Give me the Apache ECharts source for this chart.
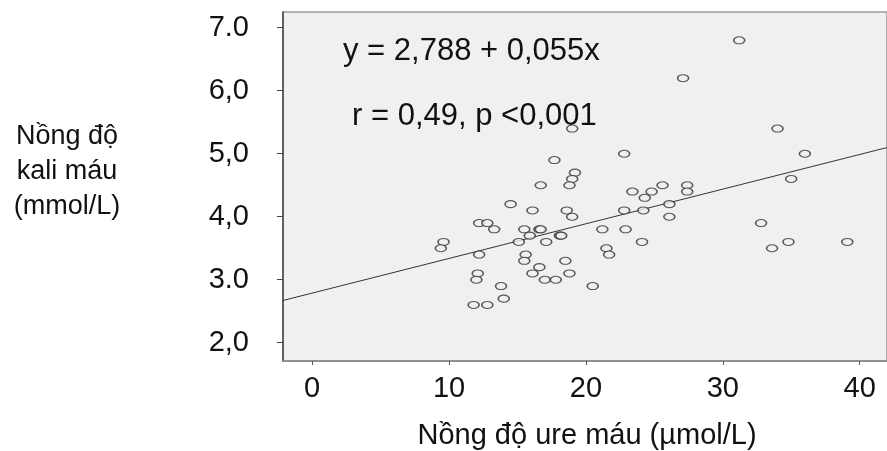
<!DOCTYPE html>
<html>
<head>
<meta charset="utf-8">
<script src="https://cdn.jsdelivr.net/npm/echarts@6/dist/echarts.min.js"></script>
<style>
  html, body { margin: 0; padding: 0; background: #fff; }
  #chart { width: 887px; height: 451px; }
</style>
</head>
<body>
<div id="chart"></div>
<script>
// ure (x) and kali (y)
var ure = [31.2, 27.1, 34.0, 19.0, 22.8, 36.0, 17.7, 19.2, 19.0, 35.0,
           16.7, 18.8, 25.6, 27.4, 23.4, 24.8, 27.4, 24.3, 26.1, 14.5,
           16.1, 18.6, 22.8, 24.2, 19.0, 26.1, 12.2, 12.8, 32.8, 13.3,
           15.5, 16.6, 16.7, 21.2, 22.9, 15.9, 18.1, 18.2, 9.6, 15.1,
           17.1, 24.1, 34.8, 39.1, 9.4, 21.5, 33.6, 12.2, 15.6, 21.7,
           15.5, 18.5, 16.6, 12.1, 16.1, 18.8, 12.0, 17.0, 17.8, 13.8,
           20.5, 14.0, 11.8, 12.8];
var kali = [6.8, 6.2, 5.4, 5.4, 5.0, 5.0, 4.9, 4.7, 4.6, 4.6,
            4.5, 4.5, 4.5, 4.5, 4.4, 4.4, 4.4, 4.3, 4.2, 4.2,
            4.1, 4.1, 4.1, 4.1, 4.0, 4.0, 3.9, 3.9, 3.9, 3.8,
            3.8, 3.8, 3.8, 3.8, 3.8, 3.7, 3.7, 3.7, 3.6, 3.6,
            3.6, 3.6, 3.6, 3.6, 3.5, 3.5, 3.5, 3.4, 3.4, 3.4,
            3.3, 3.3, 3.2, 3.1, 3.1, 3.1, 3.0, 3.0, 3.0, 2.9,
            2.9, 2.7, 2.6, 2.6];
var xTicks = [0, 10, 20, 30, 40];
var yTicks = [2, 3, 4, 5, 6, 7];
var yTickLabels = ['2,0', '3.0', '4,0', '5,0', '6,0', '7.0'];
// fitted line printed on the chart
var intercept = 2.788;
var slope = 0.055;
var xMin = -2.13, xMax = 42;
var yMin = 1.71, yMax = 7.25;

var points = ure.map(function (u, i) { return [u, kali[i]]; });
var fit = [[xMin, intercept + slope * xMin], [xMax, intercept + slope * xMax]];

var chart = echarts.init(document.getElementById('chart'));
var font = 'Liberation Sans, Arial, sans-serif';
var option = {
  animation: false,
  grid: {
    left: 283, top: 12, bottom: 90, right: -6,
    show: true,
    backgroundColor: '#f0f0f0',
    borderColor: '#999',
    borderWidth: 1.5
  },
  xAxis: {
    type: 'value',
    min: xMin, max: xMax,
    splitLine: { show: false },
    axisLine: { show: true, onZero: false, lineStyle: { color: '#888', width: 1.5 } },
    axisTick: { show: true, length: 4, customValues: xTicks, lineStyle: { color: '#555' } },
    axisLabel: {
      customValues: xTicks,
      margin: 13,
      color: '#111',
      fontSize: 29,
      fontFamily: font
    }
  },
  yAxis: {
    type: 'value',
    min: yMin, max: yMax,
    splitLine: { show: false },
    axisLine: { show: true, onZero: false, lineStyle: { color: '#444', width: 1.5 } },
    axisTick: { show: true, length: 6, customValues: yTicks, lineStyle: { color: '#444' } },
    axisLabel: {
      customValues: yTicks,
      margin: 34,
      color: '#111',
      fontSize: 29,
      fontFamily: font,
      formatter: function (v) {
        var i = yTicks.indexOf(Math.round(v));
        return i >= 0 ? yTickLabels[i] : '';
      }
    }
  },
  graphic: [
    { type: 'text', x: 343, y: 36, style: { text: 'y = 2,788 + 0,055x', fontSize: 31, fontFamily: font, fill: '#111' } },
    { type: 'text', x: 352, y: 101, style: { text: 'r = 0,49, p <0,001', fontSize: 31, fontFamily: font, fill: '#111' } },
    { type: 'text', x: 67, y: 119, style: { text: 'Nồng độ\nkali máu\n(mmol/L)', fontSize: 27, lineHeight: 35, align: 'center', fontFamily: font, fill: '#111' } },
    { type: 'text', x: 587, y: 421, style: { text: 'Nồng độ ure máu (µmol/L)', fontSize: 29, align: 'center', fontFamily: font, fill: '#111' } }
  ],
  series: [
    {
      type: 'line',
      data: fit,
      showSymbol: false,
      symbol: 'none',
      lineStyle: { color: '#333', width: 1 },
      silent: true,
      z: 1
    },
    {
      type: 'scatter',
      data: points,
      symbol: 'circle',
      symbolSize: [11, 7],
      itemStyle: { color: '#f0f0f0', borderColor: '#333', borderWidth: 1.3 },
      z: 2
    }
  ]
};
chart.setOption(option);
</script>
</body>
</html>
